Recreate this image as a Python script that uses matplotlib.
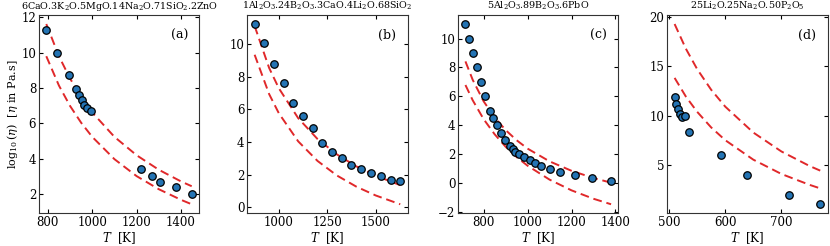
import matplotlib
matplotlib.use('Agg')
import matplotlib.pyplot as plt

plt.rcParams['font.family'] = 'DejaVu Serif'
plt.rcParams['mathtext.fontset'] = 'dejavuserif'

# measured points
Ta = [793, 843, 894, 925, 941, 952, 965, 976, 995, 1221, 1269, 1305, 1376, 1449]
ya = [11.27, 9.99, 8.75, 7.95, 7.60, 7.32, 7.07, 6.88, 6.68, 3.41, 3.01, 2.71, 2.40, 2.02]
Tb = [875, 925, 975, 1025, 1075, 1125, 1175, 1225, 1275, 1325, 1375, 1425, 1475, 1530, 1580, 1625]
yb = [11.22, 10.04, 8.80, 7.60, 6.40, 5.60, 4.83, 3.95, 3.37, 3.02, 2.58, 2.36, 2.09, 1.92, 1.67, 1.61]
Tc = [717, 732, 750, 768, 788, 807, 830, 844, 859, 878, 899, 919, 933, 943, 960, 982,
      1010, 1035, 1062, 1100, 1147, 1218, 1292, 1380]
yc = [11.0, 10.0, 9.0, 8.0, 7.0, 6.0, 5.0, 4.5, 4.0, 3.5, 3.0, 2.6, 2.4, 2.2, 2.0, 1.8,
      1.6, 1.4, 1.2, 1.0, 0.8, 0.6, 0.4, 0.2]
Td = [510, 513, 516, 520, 524, 529, 535, 592, 638, 713, 769]
yd = [11.95, 11.2, 10.65, 10.17, 9.9, 9.97, 8.39, 5.99, 4.0, 2.02, 1.03]

# dashed bounds
Ta_c = [793, 850, 900, 950, 1000, 1100, 1200, 1300, 1400, 1448]
ya_hi = [11.62, 9.80, 8.54, 7.50, 6.62, 5.24, 4.20, 3.38, 2.72, 2.45]
ya_lo = [9.80, 8.14, 6.99, 6.04, 5.24, 3.98, 3.02, 2.28, 1.68, 1.43]
Tb_c = [875, 950, 1000, 1100, 1200, 1300, 1400, 1500, 1627]
yb_hi = [11.10, 8.53, 7.29, 5.46, 4.18, 3.24, 2.51, 1.94, 1.36]
yb_lo = [9.34, 6.93, 5.76, 4.04, 2.84, 1.95, 1.27, 0.73, 0.19]
Tc_c = [717, 750, 800, 850, 900, 950, 1000, 1100, 1200, 1300, 1380]
yc_hi = [8.42, 7.15, 5.66, 4.55, 3.68, 2.98, 2.40, 1.52, 0.87, 0.37, 0.05]
yc_lo = [6.79, 5.74, 4.43, 3.39, 2.53, 1.82, 1.22, 0.26, -0.48, -1.06, -1.44]
Td_c = [510, 530, 550, 575, 600, 650, 700, 750, 769]
yd_hi = [19.3, 16.8, 14.74, 12.64, 10.93, 8.30, 6.38, 4.91, 4.44]
yd_lo = [13.84, 11.95, 10.41, 8.82, 7.53, 5.55, 4.10, 3.00, 2.64]

xticks = [[800, 1000, 1200, 1400], [1000, 1250, 1500], [800, 1000, 1200, 1400], [500, 600, 700]]
yticks = [[2, 4, 6, 8, 10, 12], [0, 2, 4, 6, 8, 10], [-2, 0, 2, 4, 6, 8, 10], [5, 10, 15, 20]]

titles = [r'6CaO.3K$_2$O.5MgO.14Na$_2$O.71SiO$_2$.2ZnO',
          r'1Al$_2$O$_3$.24B$_2$O$_3$.3CaO.4Li$_2$O.68SiO$_2$',
          r'5Al$_2$O$_3$.89B$_2$O$_3$.6PbO',
          r'25Li$_2$O.25Na$_2$O.50P$_2$O$_5$']
tags = ['(a)', '(b)', '(c)', '(d)']
lefts = [0.047, 0.298, 0.552, 0.804]

panels = [(Ta, ya, Ta_c, ya_hi, ya_lo), (Tb, yb, Tb_c, yb_hi, yb_lo),
          (Tc, yc, Tc_c, yc_hi, yc_lo), (Td, yd, Td_c, yd_hi, yd_lo)]

fig = plt.figure(figsize=(8.3, 2.46), dpi=100)
for i in range(4):
    T, y, Tcurve, hi, lo = panels[i]
    ax = fig.add_axes([lefts[i], 0.133, 0.193, 0.806])
    ax.plot(Tcurve, hi, '--', color='#e0282a', lw=1.4, dashes=(4.5, 2.5))
    ax.plot(Tcurve, lo, '--', color='#e0282a', lw=1.4, dashes=(4.5, 2.5))
    ax.plot(T, y, 'o', color='#2474b4', mec='black', mew=0.9, ms=5.4)
    ax.set_xticks(xticks[i])
    ax.set_yticks(yticks[i])
    ax.set_title(titles[i], fontsize=6.8, pad=4.5)
    ax.text(0.93, 0.93, tags[i], transform=ax.transAxes, ha='right', va='top', fontsize=9)
    ax.tick_params(direction='in', top=True, right=True, labelsize=8.5, length=3, pad=2)
    ax.set_xlabel(r'$T$  [K]', fontsize=8.5, labelpad=1)
    for s in ax.spines.values():
        s.set_color('#333333')
    if i == 0:
        ax.set_ylabel(r'$\log_{10}(\eta)$  [$\eta$ in Pa.s]', fontsize=8, labelpad=1)

fig.savefig('out.png', dpi=100)
